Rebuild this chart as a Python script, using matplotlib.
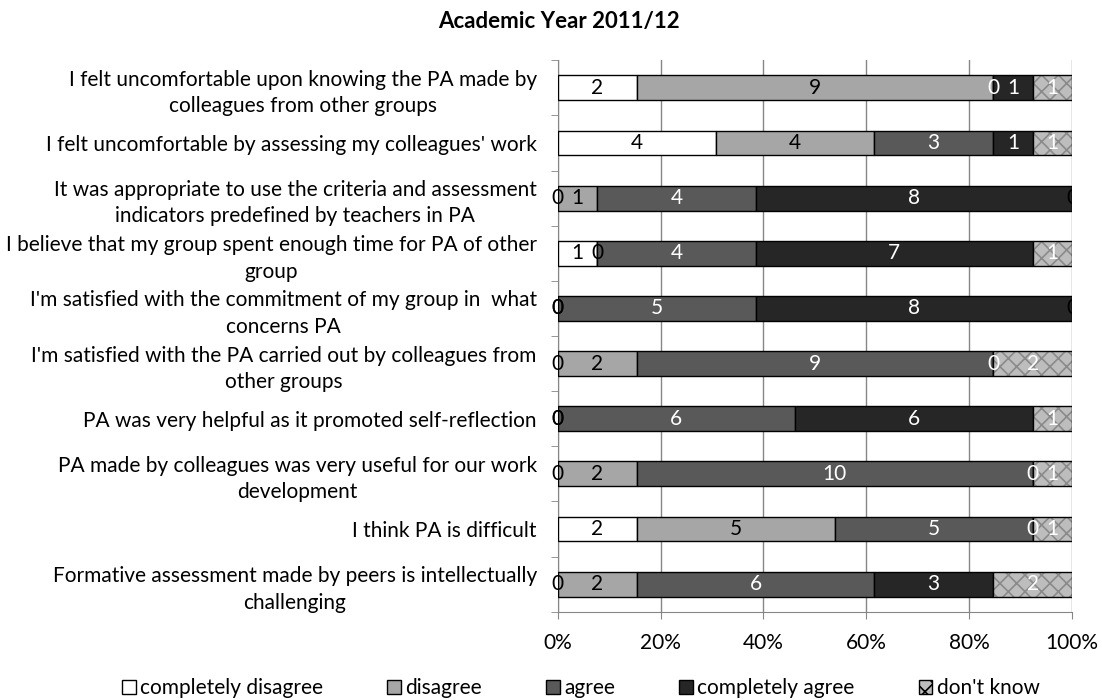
import numpy as np
import matplotlib
matplotlib.use('Agg')
import matplotlib.pyplot as plt
from matplotlib.patches import Patch

plt.rcParams['font.family'] = ['Lato', 'DejaVu Sans']
plt.rcParams['hatch.linewidth'] = 1.2

questions = [
    "I felt uncomfortable upon knowing the PA made by\ncolleagues from other groups",
    "I felt uncomfortable by assessing my colleagues' work",
    "It was appropriate to use the criteria and assessment\nindicators predefined by teachers in PA",
    "I believe that my group spent enough time for PA of other\ngroup",
    "I'm satisfied with the commitment of my group in  what\nconcerns PA",
    "I'm satisfied with the PA carried out by colleagues from\nother groups",
    "PA was very helpful as it promoted self-reflection",
    "PA made by colleagues was very useful for our work\ndevelopment",
    "I think PA is difficult",
    "Formative assessment made by peers is intellectually\nchallenging",
]
series = ['completely disagree', 'disagree', 'agree', 'completely agree', "don't know"]

completely_disagree = [2, 4, 0, 1, 0, 0, 0, 0, 2, 0]
disagree            = [9, 4, 1, 0, 0, 2, 0, 2, 5, 2]
agree               = [0, 3, 4, 4, 5, 9, 6, 10, 5, 6]
completely_agree    = [1, 1, 8, 7, 8, 0, 6, 0, 0, 3]
dont_know           = [1, 1, 0, 1, 0, 2, 1, 1, 1, 2]

colors = ['white', '#a6a6a6', '#595959', '#262626', '#bdbdbd']
text_colors = ['black', 'black', 'white', 'white', 'white']

counts = np.array([completely_disagree, disagree, agree, completely_agree, dont_know], dtype=float)
totals = counts.sum(axis=0)
shares = counts / totals

fig = plt.figure(figsize=(11.02, 7.0), dpi=100)
ax = fig.add_axes([0.506, 0.126, 0.467, 0.788])

ypos = np.arange(len(questions))
left = np.zeros(len(questions))
fs = 15
bh = 0.45
for i, name in enumerate(series):
    if i == 4:
        ax.barh(ypos, shares[i], left=left, height=bh, color=colors[i],
                edgecolor='#8a8a8a', hatch='xx', linewidth=0, zorder=3)
        ax.barh(ypos, shares[i], left=left, height=bh, color='none',
                edgecolor='black', linewidth=1.0, zorder=4)
    else:
        ax.barh(ypos, shares[i], left=left, height=bh, color=colors[i],
                edgecolor='black', linewidth=1.0, zorder=3)
    for j in range(len(questions)):
        v = int(counts[i, j])
        xc = left[j] + shares[i, j] / 2
        tc = text_colors[i]
        clip = False
        if v == 0 and i == 4:
            tc = 'black'
            clip = True
        ax.text(xc, ypos[j], str(v), ha='center', va='center', color=tc,
                fontsize=fs, zorder=5, clip_on=clip)
    left += shares[i]

ax.set_xlim(0, 1)
ax.set_ylim(len(questions) - 0.5, -0.5)
ax.set_xticks(np.linspace(0, 1, 6))
ax.set_xticklabels(['0%', '20%', '40%', '60%', '80%', '100%'], fontsize=fs)
ax.set_yticks(ypos)
ax.set_yticklabels(questions, fontsize=fs, multialignment='center', linespacing=1.4)
ax.set_yticks(np.arange(-0.5, len(questions), 1), minor=True)
ax.tick_params(axis='y', which='major', length=0, pad=15)
ax.tick_params(axis='y', which='minor', length=5, color='#868686')
ax.tick_params(axis='x', length=5, color='#868686', pad=10)
ax.grid(axis='x', color='#868686', linewidth=1, zorder=0)
ax.set_axisbelow(True)
for s in ['top', 'right']:
    ax.spines[s].set_visible(False)
for s in ['left', 'bottom']:
    ax.spines[s].set_color('#868686')

fig.text(0.507, 0.969, 'Academic Year 2011/12', ha='center', va='center',
         fontsize=16, fontweight='bold')

handles = []
for i, name in enumerate(series):
    if i == 4:
        handles.append(Patch(facecolor=colors[i], edgecolor='black', hatch='xx', label=name))
    else:
        handles.append(Patch(facecolor=colors[i], edgecolor='black', label=name))
fig.legend(handles=handles, loc='center', bbox_to_anchor=(0.527, 0.017), ncol=5,
           frameon=False, fontsize=fs, handlelength=0.65, handleheight=0.65,
           handletextpad=0.2, columnspacing=3.1)

fig.savefig('out.png', dpi=100)
